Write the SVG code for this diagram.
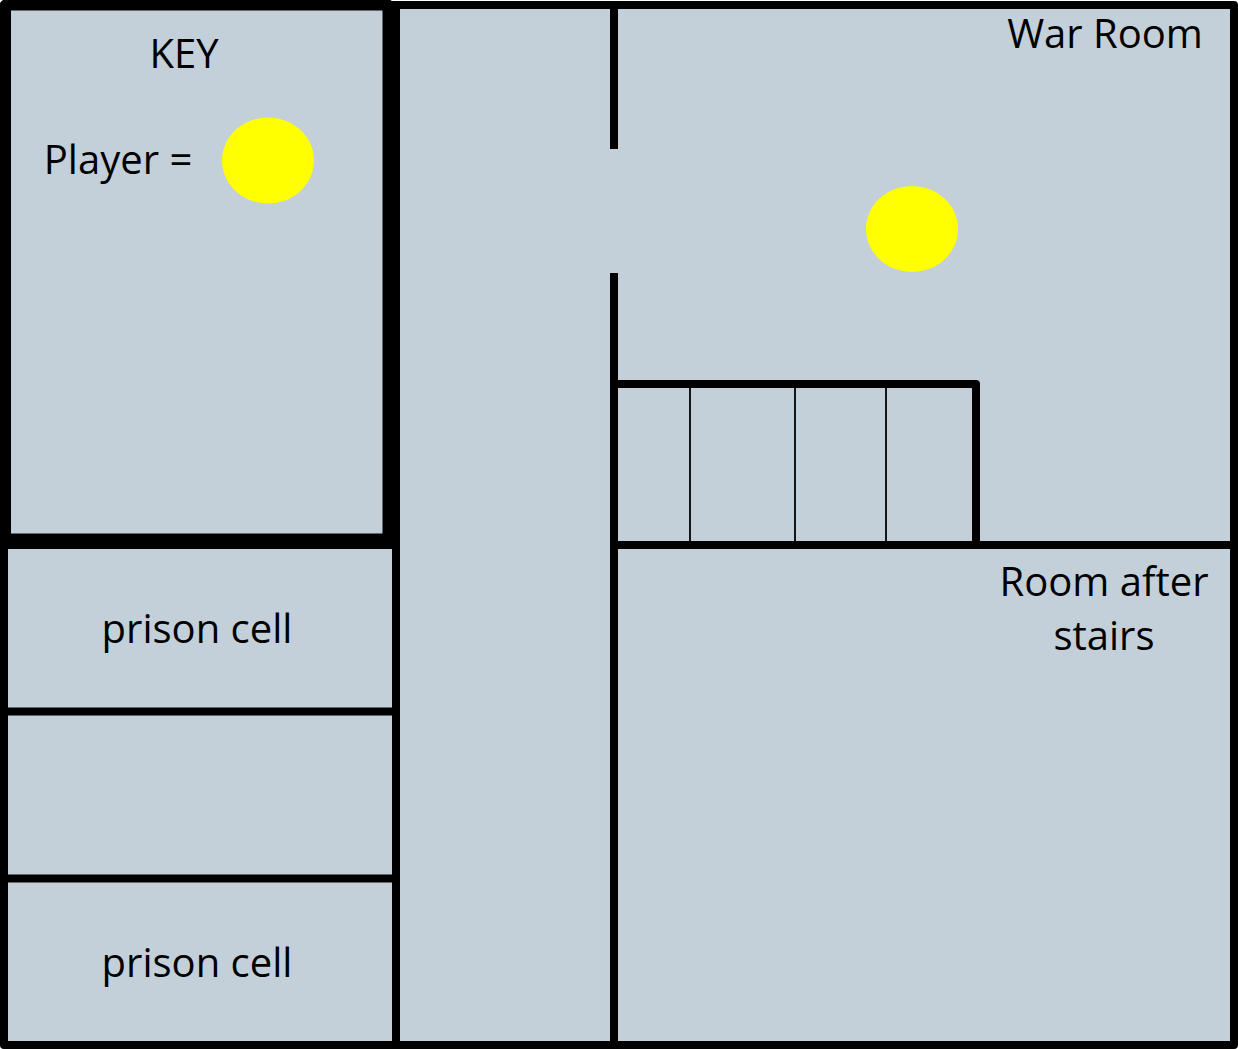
<svg xmlns="http://www.w3.org/2000/svg" width="1238" height="1049" viewBox="0 0 1238 1049">
<style>
.w{stroke:#000;fill:none;stroke-linecap:butt;stroke-linejoin:round}
.t{font-family:"Open Sans","Noto Sans",sans-serif;font-size:40px;fill:#000;text-anchor:middle}
.p{fill:#ff0}
</style>
<rect width="1238" height="1049" fill="#fff"/>
<rect x="4" y="5" width="1230" height="1040" fill="#c3d0da" stroke="#000" stroke-width="8" stroke-linejoin="round"/>
<g id="walls">
<rect class="w" x="5.500" y="5" width="382.500" height="534" stroke-width="11"/>
<path class="w" stroke-width="8" d="M396 5V1045M614 5V149M614 273V1045M614 384H976V545M0 545H396M614 545H1234M4 711.500H396M4 878.500H396"/>
<path class="w" stroke-width="1.800" d="M690 384V545M795 384V545M886 384V545"/>
</g>
<g id="player-key"><ellipse class="p" cx="268" cy="160.500" rx="46" ry="43"/></g>
<g id="player"><ellipse class="p" cx="912" cy="229" rx="46" ry="43"/></g>
<text class="t" x="184" y="68">KEY</text>
<text class="t" x="118" y="174">Player =</text>
<text class="t" x="1105" y="48">War Room</text>
<text class="t" x="1104" y="596">Room after</text>
<text class="t" x="1104" y="650">stairs</text>
<text class="t" x="197" y="643">prison cell</text>
<text class="t" x="197" y="977">prison cell</text>
</svg>
